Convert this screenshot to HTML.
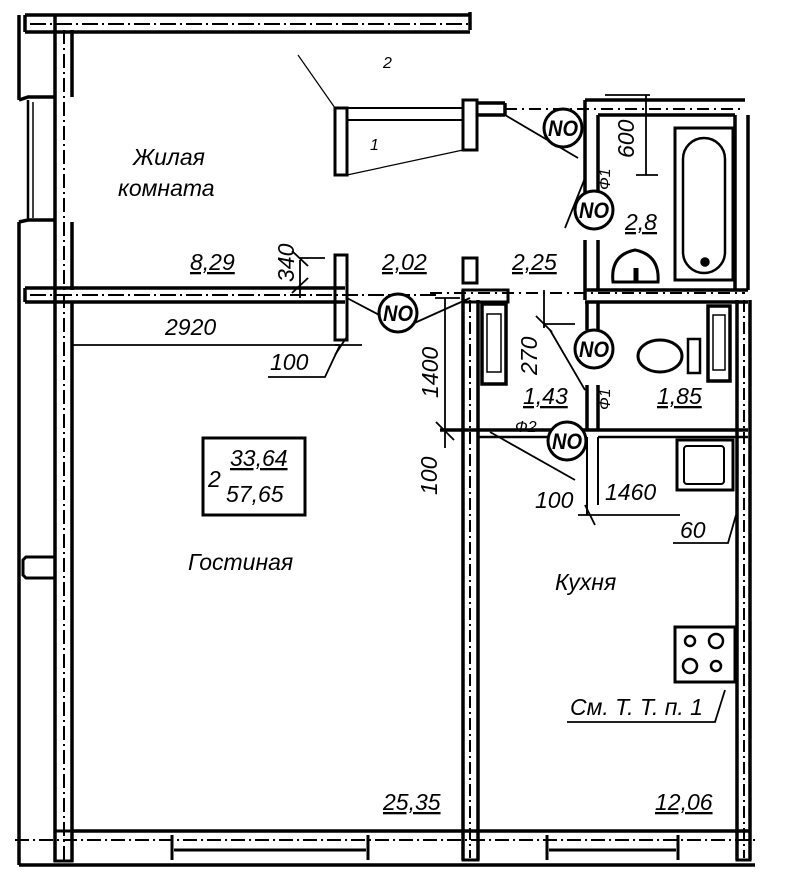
<!DOCTYPE html>
<html><head><meta charset="utf-8"><style>
html,body{margin:0;padding:0;background:#fff;}
svg{display:block}
text{font-family:"Liberation Sans",sans-serif;font-style:italic;fill:#000}
</style></head><body>
<svg width="800" height="882" viewBox="0 0 800 882" xmlns="http://www.w3.org/2000/svg">
<g fill="none" stroke="#000" stroke-width="3.5">
<line x1="19" y1="15" x2="19" y2="100"/>
<line x1="19" y1="222" x2="19" y2="865"/>
<line x1="55" y1="15" x2="55" y2="862"/>
<line x1="72" y1="30" x2="72" y2="97"/>
<line x1="72" y1="222" x2="72" y2="290"/>
<line x1="72" y1="302" x2="72" y2="862"/>
<line x1="64" y1="30" x2="64" y2="860" stroke-width="2" stroke-dasharray="14,4,2,4"/>
<path d="M19 100 L28 97 L55 97 M19 222 L28 220 L55 220"/>
<line x1="28" y1="100" x2="28" y2="220" stroke-width="2.5"/>
<line x1="33" y1="102" x2="33" y2="218" stroke-width="1.5"/>
<path d="M55 557 L26 557 L23 560 L23 575 L26 578 L55 578" stroke-width="3"/>
<line x1="25" y1="15" x2="470" y2="15"/>
<line x1="25" y1="32" x2="470" y2="32"/>
<line x1="25" y1="15" x2="25" y2="32"/>
<line x1="30" y1="24" x2="470" y2="24" stroke-width="2" stroke-dasharray="16,4,2,4"/>
<line x1="470" y1="12" x2="470" y2="30"/>
<line x1="25" y1="288" x2="345" y2="288"/>
<line x1="25" y1="302" x2="345" y2="302"/>
<line x1="25" y1="288" x2="25" y2="302"/>
<line x1="30" y1="295" x2="440" y2="295" stroke-width="2" stroke-dasharray="16,4,2,4"/>
<rect x="335" y="255" width="12" height="85" stroke-width="3"/>
<rect x="335" y="108" width="12" height="67" stroke-width="3"/>
<rect x="463" y="100" width="14" height="50" stroke-width="3"/>
<rect x="463" y="258" width="14" height="25" stroke-width="3"/>
<line x1="347" y1="108" x2="463" y2="108" stroke-width="2"/>
<line x1="347" y1="120" x2="463" y2="120" stroke-width="2"/>
<line x1="477" y1="103" x2="505" y2="103"/>
<line x1="477" y1="115" x2="505" y2="115"/>
<line x1="505" y1="103" x2="505" y2="115"/>
<line x1="505" y1="109" x2="745" y2="109" stroke-width="2" stroke-dasharray="12,5,2,5"/>
<line x1="347" y1="175" x2="463" y2="150" stroke-width="1.2"/>
<line x1="335" y1="108" x2="298" y2="55" stroke-width="1.2"/>
<line x1="585" y1="100" x2="745" y2="100"/>
<line x1="585" y1="100" x2="585" y2="195"/>
<line x1="598" y1="115" x2="598" y2="195"/>
<line x1="585" y1="240" x2="585" y2="300"/>
<line x1="598" y1="240" x2="598" y2="290"/>
<line x1="598" y1="115" x2="735" y2="115"/>
<line x1="735" y1="115" x2="735" y2="290"/>
<line x1="748" y1="115" x2="748" y2="290"/>
<rect x="675" y="128" width="58" height="152" stroke-width="3"/>
<rect x="683" y="138" width="42" height="135" rx="21" stroke-width="2.5"/>
<circle cx="705" cy="262" r="3" fill="#000"/>
<path d="M613 282 Q610 255 635 250 Q660 255 658 282 Z" stroke-width="3"/>
<line x1="636" y1="268" x2="636" y2="282" stroke-width="5"/>
<line x1="585" y1="290" x2="748" y2="290"/>
<line x1="585" y1="302" x2="748" y2="302"/>
<line x1="430" y1="293" x2="745" y2="293" stroke-width="2" stroke-dasharray="12,5,2,5"/>
<line x1="587" y1="302" x2="587" y2="330"/>
<line x1="598" y1="302" x2="598" y2="330"/>
<line x1="587" y1="385" x2="587" y2="430"/>
<line x1="598" y1="385" x2="598" y2="430"/>
<ellipse cx="660" cy="356" rx="22" ry="16" stroke-width="3"/>
<rect x="688" y="339" width="12" height="34" stroke-width="2.5"/>
<rect x="708" y="306" width="22" height="75" stroke-width="3.5"/>
<rect x="713" y="315" width="12" height="55" stroke-width="1.5"/>
<line x1="440" y1="430" x2="748" y2="430"/>
<line x1="478" y1="437" x2="585" y2="437" stroke-width="2.5"/>
<line x1="598" y1="437" x2="748" y2="437" stroke-width="2.5"/>
<line x1="598" y1="437" x2="598" y2="505" stroke-width="2"/>
<line x1="587" y1="437" x2="587" y2="515" stroke-width="2"/>
<line x1="463" y1="290" x2="463" y2="860"/>
<line x1="478" y1="300" x2="478" y2="860"/>
<line x1="470" y1="300" x2="470" y2="858" stroke-width="2" stroke-dasharray="12,4,2,4"/>
<rect x="463" y="290" width="45" height="12" stroke-width="3"/>
<rect x="482" y="304" width="24" height="80" stroke-width="3.5"/>
<rect x="487" y="314" width="14" height="58" stroke-width="1.5"/>
<line x1="737" y1="300" x2="737" y2="860"/>
<line x1="750" y1="300" x2="750" y2="860"/>
<line x1="744" y1="300" x2="744" y2="858" stroke-width="2" stroke-dasharray="12,4,2,4"/>
<rect x="677" y="440" width="56" height="50" stroke-width="3"/>
<rect x="684" y="446" width="40" height="38" rx="3" stroke-width="2"/>
<rect x="675" y="627" width="60" height="55" stroke-width="3"/>
<circle cx="690" cy="641" r="5" stroke-width="2.5"/><circle cx="716" cy="641" r="7" stroke-width="2.5"/>
<circle cx="690" cy="666" r="7" stroke-width="2.5"/><circle cx="716" cy="666" r="5" stroke-width="2.5"/>
<line x1="72" y1="831" x2="750" y2="831"/>
<line x1="19" y1="865" x2="755" y2="865"/>
<line x1="15" y1="840" x2="755" y2="840" stroke-width="2" stroke-dasharray="14,4,2,4"/>
<rect x="55" y="831" width="17" height="30" stroke-width="3"/>
<rect x="463" y="831" width="15" height="29" stroke-width="3"/>
<rect x="737" y="831" width="13" height="29" stroke-width="3"/>
<path d="M172 835 L172 860 M368 835 L368 860 M174 850 L366 850" stroke-width="3"/>
<path d="M547 835 L547 860 M678 835 L678 860 M549 850 L676 850" stroke-width="3"/>
<g stroke-width="1.8">
<line x1="72" y1="345" x2="340" y2="345"/>
<line x1="300" y1="260" x2="300" y2="298"/>
<line x1="300" y1="258" x2="325" y2="258"/>
<line x1="292" y1="251" x2="308" y2="266"/><line x1="292" y1="293" x2="308" y2="278"/>
<line x1="335" y1="345" x2="362" y2="345"/>
<line x1="348" y1="335" x2="335" y2="355"/>
<path d="M268 377 L325 377 L340 345"/>
<line x1="347" y1="298" x2="385" y2="318"/>
<line x1="410" y1="325" x2="470" y2="298"/>
<line x1="505" y1="115" x2="578" y2="158"/>
<line x1="585" y1="178" x2="565" y2="228"/>
<line x1="445" y1="298" x2="445" y2="430"/>
<line x1="435" y1="298" x2="460" y2="298"/>
<line x1="436" y1="422" x2="454" y2="440"/>
<line x1="445" y1="430" x2="445" y2="448"/>
<line x1="544" y1="290" x2="544" y2="328"/>
<line x1="544" y1="324" x2="575" y2="324"/>
<line x1="536" y1="316" x2="552" y2="332"/>
<line x1="550" y1="330" x2="585" y2="390"/>
<line x1="490" y1="432" x2="575" y2="480"/>
<line x1="578" y1="515" x2="680" y2="515"/>
<line x1="585" y1="505" x2="595" y2="525"/>
<line x1="605" y1="95" x2="650" y2="95"/>
<line x1="646" y1="95" x2="646" y2="175"/>
<line x1="636" y1="175" x2="658" y2="175"/>
<path d="M673 543 L728 543 L736 515"/>
<path d="M567 722 L715 722 L725 690"/>
</g>
</g>
<g fill="#fff" stroke="#000" stroke-width="3">
<circle cx="563" cy="128" r="19"/>
<circle cx="594" cy="210" r="19"/>
<circle cx="398" cy="313" r="19"/>
<circle cx="594" cy="349" r="19"/>
<circle cx="567" cy="441" r="19"/>
</g>
<g font-size="22" font-style="normal" text-anchor="middle" font-weight="bold">
<text x="563" y="136" textLength="30" lengthAdjust="spacingAndGlyphs">NO</text>
<text x="594" y="218" textLength="30" lengthAdjust="spacingAndGlyphs">NO</text>
<text x="398" y="321" textLength="30" lengthAdjust="spacingAndGlyphs">NO</text>
<text x="594" y="357" textLength="30" lengthAdjust="spacingAndGlyphs">NO</text>
<text x="567" y="449" textLength="30" lengthAdjust="spacingAndGlyphs">NO</text>
</g>
<g font-size="23">
<text x="133" y="165">Жилая</text>
<text x="118" y="196">комната</text>
<text x="188" y="570">Гостиная</text>
<text x="555" y="590">Кухня</text>
<text x="165" y="335">2920</text>
<text x="270" y="370">100</text>
<text x="190" y="270" text-decoration="underline">8,29</text>
<text x="382" y="270" text-decoration="underline">2,02</text>
<text x="512" y="270" text-decoration="underline">2,25</text>
<text x="625" y="230" text-decoration="underline">2,8</text>
<text x="523" y="404" text-decoration="underline">1,43</text>
<text x="657" y="404" text-decoration="underline">1,85</text>
<text x="535" y="508">100</text>
<text x="605" y="500">1460</text>
<text x="680" y="538">60</text>
<text x="570" y="715">См. Т. Т. п. 1</text>
<text x="383" y="810" text-decoration="underline">25,35</text>
<text x="655" y="810" text-decoration="underline">12,06</text>
<text x="230" y="466" text-decoration="underline">33,64</text>
<text x="226" y="502">57,65</text>
<text x="208" y="487">2</text>
<text transform="translate(294,282) rotate(-90)">340</text>
<text transform="translate(438,398) rotate(-90)">1400</text>
<text transform="translate(437,495) rotate(-90)">100</text>
<text transform="translate(537,375) rotate(-90)">270</text>
<text transform="translate(634,158) rotate(-90)">600</text>
<text transform="translate(610,190) rotate(-90)" font-size="16">Ф1</text>
<text transform="translate(610,410) rotate(-90)" font-size="16">Ф1</text>
<text x="515" y="432" font-size="16">Ф2</text>
<text x="383" y="68" font-size="16">2</text>
<text x="370" y="150" font-size="16">1</text>
</g>
<rect x="203" y="438" width="102" height="77" fill="none" stroke="#000" stroke-width="3"/>
</svg>
</body></html>
